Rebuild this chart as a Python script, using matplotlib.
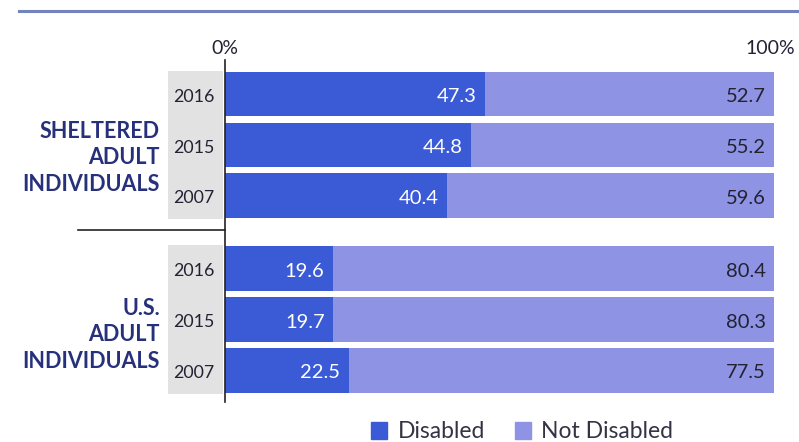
import matplotlib
matplotlib.use("Agg")
import matplotlib.pyplot as plt
from matplotlib.patches import Rectangle
from matplotlib.lines import Line2D

# ---- data ----
groups = ["SHELTERED\nADULT\nINDIVIDUALS", "U.S.\nADULT\nINDIVIDUALS"]
years = ["2016", "2015", "2007"]
sheltered_disabled = [47.3, 44.8, 40.4]
sheltered_not_disabled = [52.7, 55.2, 59.6]
us_disabled = [19.6, 19.7, 22.5]
us_not_disabled = [80.4, 80.3, 77.5]
series_names = ["Disabled", "Not Disabled"]
tick_labels = ["0%", "100%"]

# ---- style ----
C_DIS = "#3b5bd6"
C_NOT = "#8e93e3"
C_NAVY = "#27307a"
C_TEXT = "#222233"
FONT = ["Lato", "DejaVu Sans"]
plt.rcParams["font.family"] = FONT

fig = plt.figure(figsize=(7.99, 4.42), dpi=100)
W, H = 799, 442
ax = fig.add_axes([225 / W, 1 - 402 / H, 549 / W, 342 / H])

group_gap = 1.43
positions = []
disabled_vals = sheltered_disabled + us_disabled
not_vals = sheltered_not_disabled + us_not_disabled
year_labels = years + years
for g in range(2):
    for i in range(3):
        positions.append(g * (2 + group_gap) + i)

bh = 0.88
ax.barh(positions, disabled_vals, height=bh, color=C_DIS, label=series_names[0])
ax.barh(positions, not_vals, left=disabled_vals, height=bh, color=C_NOT, label=series_names[1])

for y, d, n in zip(positions, disabled_vals, not_vals):
    ax.text(d - 1.5, y + 0.05, f"{d:.1f}", ha="right", va="center", color="white", fontsize=14.5)
    ax.text(d + n - 1.5, y + 0.05, f"{n:.1f}", ha="right", va="center", color=C_TEXT, fontsize=14.5)

ax.set_xlim(0, 100)
ax.set_ylim(positions[-1] + 0.62, -0.67)

for s in ["top", "right", "bottom"]:
    ax.spines[s].set_visible(False)
ax.spines["left"].set_color("#222222")
ax.spines["left"].set_linewidth(1.2)
ax.set_yticks([])
ax.set_xticks([])

# x labels on top
ax.text(0, -0.72, tick_labels[0], ha="center", va="bottom", fontsize=14, color=C_TEXT)
ax.text(103.9, -0.72, tick_labels[1], ha="right", va="bottom", fontsize=14, color=C_TEXT)

# gray panels + year labels
for g in range(2):
    y0 = positions[g * 3] - bh / 2 - 0.02
    y1 = positions[g * 3 + 2] + bh / 2 + 0.02
    ax.add_patch(Rectangle((-10.4, y0), 10.0, y1 - y0, color="#e2e2e2", clip_on=False, zorder=0, lw=0))
for y, yr in zip(positions, year_labels):
    ax.text(-2.0, y + 0.05, yr, ha="right", va="center", fontsize=12.8, color=C_TEXT)

# group labels
offsets = [0.25, 0.3]
for g, name in enumerate(groups):
    yc = positions[g * 3 + 1] + offsets[g]
    ax.text(-11.9, yc, name, ha="right", va="center", fontsize=15.5, fontweight="bold",
            color=C_NAVY, linespacing=1.32)

# separator line between groups
sep_y = positions[2] + (positions[3] - positions[2]) / 2 - 0.05
ax.plot([-26.8, 0], [sep_y, sep_y], color="#222222", lw=1.2, clip_on=False)

# top rule
fig.add_artist(Line2D([19 / W, 1.0], [1 - 11 / H, 1 - 11 / H], color="#7383bd", lw=2.2))

# legend
handles = [Rectangle((0, 0), 1, 1, color=C_DIS), Rectangle((0, 0), 1, 1, color=C_NOT)]
fig.legend(handles, series_names, loc="center", bbox_to_anchor=(522 / W, 1 - 432 / H), ncol=2,
           frameon=False, fontsize=16.5, handlelength=0.7, handleheight=0.7,
           handletextpad=0.45, columnspacing=1.3, labelcolor="#333344")

fig.savefig("out.png", dpi=100, facecolor="white")
